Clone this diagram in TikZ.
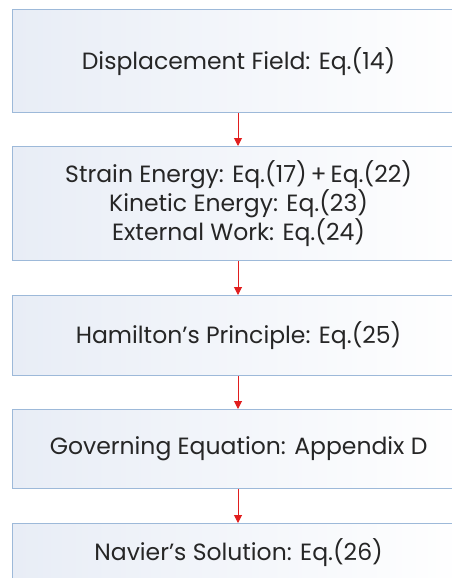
\documentclass[tikz,border=0pt]{standalone}
\usepackage{fontspec}
\setmainfont{Poppins}
\usetikzlibrary{arrows.meta}
\definecolor{boxline}{RGB}{157,185,217}
\definecolor{boxfillL}{RGB}{232,237,246}
\definecolor{arrowred}{RGB}{225,30,30}
\begin{document}
\begin{tikzpicture}[x=1pt,y=-1pt,
  flowbox/.style={draw=boxline,line width=1.2pt,left color=boxfillL,right color=white,
    minimum width=452pt,inner sep=0pt,anchor=north west,text=black!85,
    font=\fontsize{23.5}{27.5}\selectfont,align=center},
  flowarrow/.style={draw=arrowred,line width=1pt,-{Triangle[length=8pt,width=8pt]}}]
\useasboundingbox (0,0) rectangle (452,578);
\clip (0,0) rectangle (452,578);
\node[flowbox,minimum height=103pt] (b1) at (12,9) {Displacement Field: Eq.(14)};
\node[flowbox,minimum height=114pt] (b2) at (12,146) {Strain Energy: Eq.(17)\,+\,Eq.(22)\\Kinetic Energy: Eq.(23)\\External Work: Eq.(24)};
\node[flowbox,minimum height=80pt] (b3) at (12,295) {Hamilton’s Principle: Eq.(25)};
\node[flowbox,minimum height=79pt] (b4) at (12,409) {Governing Equation: Appendix D};
\node[flowbox,minimum height=57pt] (b5) at (12,523) {Navier’s Solution: Eq.(26)};
\coordinate (ax) at (238,0);
\draw[flowarrow] (b1.south -| ax) -- (b2.north -| ax);
\draw[flowarrow] (b2.south -| ax) -- (b3.north -| ax);
\draw[flowarrow] (b3.south -| ax) -- (b4.north -| ax);
\draw[flowarrow] (b4.south -| ax) -- (b5.north -| ax);
\end{tikzpicture}
\end{document}
